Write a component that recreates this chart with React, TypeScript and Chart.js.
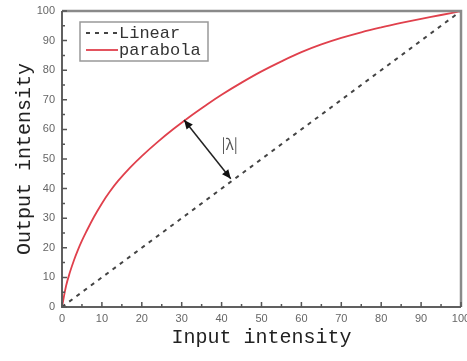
import React, { useEffect, useRef } from "react";
import { Chart, registerables } from "chart.js";

Chart.register(...registerables);

const xValues = [0, 1, 2, 3, 4, 5, 6, 8, 10, 12, 14, 17, 20, 24, 28, 32, 36, 40, 45, 50, 55, 60, 65, 70, 75, 80, 85, 90, 95, 100];
const parabolaY = [0, 7, 11.8, 15.8, 19.3, 22.4, 25.2, 30.4, 35, 39, 42.5, 47, 51, 55.8, 60.2, 64.3, 68.1, 71.7, 75.8, 79.6, 83, 86.1, 88.7, 90.9, 92.8, 94.45, 95.95, 97.35, 98.65, 100];
const linearX = [0, 100];
const linearY = [0, 100];
const axisTicks = [0, 10, 20, 30, 40, 50, 60, 70, 80, 90, 100];
const seriesNames = ["Linear", "parabola"];
const xTitle = "Input intensity";
const yTitle = "Output intensity";
const arrowLabel = "|λ|";
const arrowFrom = { x: 30.6, y: 63.2 };
const arrowTo = { x: 42.3, y: 43.3 };
const labelAt = { x: 42, y: 55 };

const MONO = "'Liberation Mono', 'DejaVu Sans Mono', monospace";

function drawHead(ctx: CanvasRenderingContext2D, x1: number, y1: number, x2: number, y2: number) {
  const ang = Math.atan2(y2 - y1, x2 - x1);
  const len = 9;
  const w = 4;
  ctx.beginPath();
  ctx.moveTo(x2, y2);
  ctx.lineTo(x2 - len * Math.cos(ang) + w * Math.sin(ang), y2 - len * Math.sin(ang) - w * Math.cos(ang));
  ctx.lineTo(x2 - len * Math.cos(ang) - w * Math.sin(ang), y2 - len * Math.sin(ang) + w * Math.cos(ang));
  ctx.closePath();
  ctx.fill();
}

const decorPlugin = {
  id: "decor",
  afterDatasetsDraw(chart: any) {
    const { ctx, chartArea: a, scales } = chart;
    const xs = scales.x;
    const ys = scales.y;
    ctx.save();
    // arrow
    const ax1 = xs.getPixelForValue(arrowFrom.x);
    const ay1 = ys.getPixelForValue(arrowFrom.y);
    const ax2 = xs.getPixelForValue(arrowTo.x);
    const ay2 = ys.getPixelForValue(arrowTo.y);
    ctx.strokeStyle = "#222";
    ctx.fillStyle = "#111";
    ctx.lineWidth = 1.5;
    ctx.beginPath();
    ctx.moveTo(ax1, ay1);
    ctx.lineTo(ax2, ay2);
    ctx.stroke();
    drawHead(ctx, ax2, ay2, ax1, ay1);
    drawHead(ctx, ax1, ay1, ax2, ay2);
    ctx.fillStyle = "#555";
    ctx.font = "15px 'Noto Sans CJK SC', 'DejaVu Sans', sans-serif";
    ctx.textAlign = "center";
    ctx.textBaseline = "middle";
    ctx.fillText(arrowLabel, xs.getPixelForValue(labelAt.x), ys.getPixelForValue(labelAt.y));

    // frame
    ctx.strokeStyle = "#8a8a8a";
    ctx.lineWidth = 2.5;
    ctx.beginPath();
    ctx.moveTo(a.left, a.top);
    ctx.lineTo(a.right, a.top);
    ctx.lineTo(a.right, a.bottom);
    ctx.stroke();
    ctx.strokeStyle = "#606060";
    ctx.lineWidth = 2;
    ctx.beginPath();
    ctx.moveTo(a.left, a.top);
    ctx.lineTo(a.left, a.bottom);
    ctx.lineTo(a.right, a.bottom);
    ctx.stroke();
    // inward ticks
    ctx.lineWidth = 1.5;
    ctx.strokeStyle = "#555";
    for (let v = 0; v <= 100; v += 5) {
      const major = v % 10 === 0;
      const l = major ? 5 : 3;
      const px = xs.getPixelForValue(v);
      const py = ys.getPixelForValue(v);
      ctx.beginPath();
      ctx.moveTo(px, a.bottom);
      ctx.lineTo(px, a.bottom - l);
      ctx.moveTo(a.left, py);
      ctx.lineTo(a.left + l, py);
      ctx.stroke();
    }

    // legend
    const lx = a.left + 18;
    const ly = a.top + 11;
    const lw = 128;
    const lh = 39;
    ctx.fillStyle = "#fff";
    ctx.fillRect(lx, ly, lw, lh);
    ctx.strokeStyle = "#999";
    ctx.lineWidth = 1.5;
    ctx.strokeRect(lx, ly, lw, lh);
    ctx.font = "17px " + MONO;
    ctx.textAlign = "left";
    ctx.textBaseline = "middle";
    chart.data.datasets.forEach((ds: any, i: number) => {
      const yy = ly + 11 + i * 17;
      ctx.save();
      ctx.strokeStyle = ds.borderColor;
      ctx.lineWidth = ds.borderWidth;
      ctx.setLineDash(ds.borderDash || []);
      ctx.beginPath();
      ctx.moveTo(lx + 6, yy);
      ctx.lineTo(lx + 38, yy);
      ctx.stroke();
      ctx.restore();
      ctx.fillStyle = "#333";
      ctx.fillText(ds.label, lx + 39, yy);
    });
    ctx.restore();
  },
};

export default function App() {
  const ref = useRef<HTMLCanvasElement | null>(null);
  useEffect(() => {
    document.body.style.margin = "0";
    if (!ref.current) return;
    const zeroPad = (s: any) => {
      s.paddingLeft = 0;
      s.paddingRight = 0;
      s.paddingTop = 0;
      s.paddingBottom = 0;
    };
    const chart = new Chart(ref.current, {
      type: "line",
      data: {
        datasets: [
          {
            label: seriesNames[0],
            data: linearX.map((x, i) => ({ x, y: linearY[i] })),
            borderColor: "#444",
            borderWidth: 2,
            borderDash: [4, 5],
            pointRadius: 0,
            fill: false,
          },
          {
            label: seriesNames[1],
            data: xValues.map((x, i) => ({ x, y: parabolaY[i] })),
            borderColor: "#e0404c",
            borderWidth: 1.8,
            pointRadius: 0,
            tension: 0.4,
            fill: false,
          },
        ],
      },
      options: {
        animation: false,
        responsive: true,
        maintainAspectRatio: false,
        layout: { padding: { top: 11, right: 6, left: 0, bottom: 0 } },
        plugins: { legend: { display: false }, tooltip: { enabled: false } },
        scales: {
          x: {
            type: "linear",
            min: 0,
            max: 100,
            afterBuildTicks: (s: any) => {
              s.ticks = axisTicks.map((v) => ({ value: v }));
            },
            afterFit: (s: any) => {
              s.height = 54;
              zeroPad(s);
            },
            grid: { display: false, drawTicks: false },
            border: { display: false },
            ticks: {
              padding: 5,
              color: "#666",
              font: { family: "'Liberation Sans', Arial, sans-serif", size: 11 },
              maxRotation: 0,
            },
            title: {
              display: true,
              text: xTitle,
              color: "#222",
              font: { family: MONO, size: 20, lineHeight: 1.2 },
              padding: { top: 0, bottom: 11 },
            },
          },
          y: {
            type: "linear",
            min: 0,
            max: 100,
            afterBuildTicks: (s: any) => {
              s.ticks = axisTicks.map((v) => ({ value: v }));
            },
            afterFit: (s: any) => {
              s.width = 62;
              zeroPad(s);
            },
            grid: { display: false, drawTicks: false },
            border: { display: false },
            ticks: {
              padding: 7,
              color: "#666",
              font: { family: "'Liberation Sans', Arial, sans-serif", size: 11 },
            },
            title: {
              display: true,
              text: yTitle,
              color: "#222",
              font: { family: MONO, size: 20, lineHeight: 1.2 },
              padding: { top: 13, bottom: 0 },
            },
          },
        },
      },
      plugins: [decorPlugin],
    } as any);
    return () => chart.destroy();
  }, []);
  return (
    <div style={{ position: "absolute", left: 0, top: 0, width: 467, height: 361, background: "#fff" }}>
      <canvas ref={ref} />
    </div>
  );
}
